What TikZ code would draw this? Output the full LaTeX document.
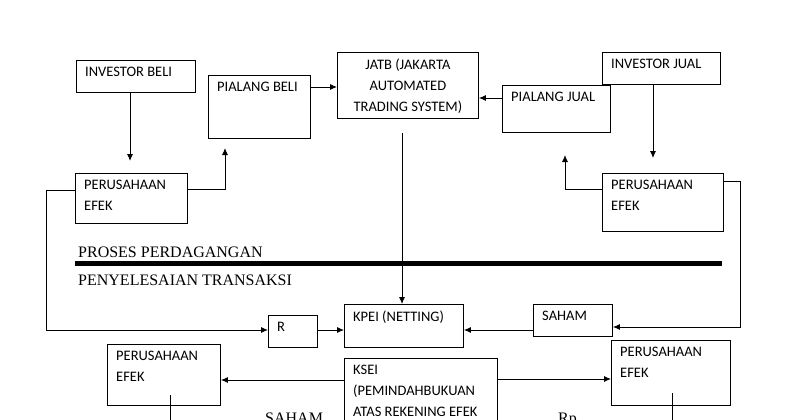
\documentclass[tikz,border=0pt]{standalone}
\usepackage{fontspec}
\setmainfont{Carlito}
\newfontfamily\timesfont{Liberation Serif}
\usetikzlibrary{arrows.meta,calc,positioning}
\tikzset{
  box/.style={draw, line width=0.9pt, anchor=north west, inner sep=0pt},
  boxtext/.style={anchor=north west, align=left, inner sep=0pt, font=\fontsize{14.5}{21}\selectfont},
  l1/.style={line width=0.9pt},
  arr/.style={l1, -{Latex[length=7pt,width=6pt]}},
  sep/.style={font=\timesfont\fontsize{16}{18}\selectfont, anchor=base west, inner sep=0pt}
}
% box macro: name, x, y, width, height, text
\newcommand{\bx}[6]{%
  \node[box, minimum width=#4, minimum height=#5] (#1) at (#2,#3) {};
  \node[boxtext] (#1t) at ($(#1.north west)+(9,7)$) {#6};}
\begin{document}
\begin{tikzpicture}[x=1pt,y=-1pt]
    \useasboundingbox (0,0) rectangle (800,420);
    \bx{invb}{76}{60}{119pt}{32pt}{INVESTOR BELI}
    \bx{pialb}{208}{75}{102pt}{63pt}{PIALANG BELI}
    \node[box, minimum width=141pt, minimum height=66pt] (jatb) at (337,52) {};
    \node[boxtext, anchor=north, align=center] (jatbt) at ($(jatb.north)+(0,7)$) {JATB (JAKARTA\\AUTOMATED\\TRADING SYSTEM)};
    \bx{pialj}{502}{85}{108pt}{47pt}{PIALANG JUAL}
    \bx{invj}{602}{52}{118pt}{32pt}{INVESTOR JUAL}
    \bx{pel}{75}{173}{112pt}{50pt}{PERUSAHAAN\\EFEK}
    \bx{per}{602}{173}{121pt}{58pt}{PERUSAHAAN\\EFEK}
    \bx{r}{268}{315}{49pt}{32pt}{R}
    \bx{kpei}{344}{304}{119pt}{43pt}{KPEI (NETTING)}
    \bx{saham}{533}{304}{79pt}{32pt}{SAHAM}
    \bx{pebl}{107}{344}{113pt}{61pt}{PERUSAHAAN\\EFEK}
    \bx{ksei}{344}{358}{153pt}{80pt}{KSEI\\(PEMINDAHBUKUAN\\ATAS REKENING EFEK}
    \bx{pebr}{611}{340}{119pt}{65pt}{PERUSAHAAN\\EFEK}

    % separator
    \draw[line width=5pt] (75,263) -- (722,263);
    \node[sep] (proses) at (78,257) {PROSES PERDAGANGAN};
    \node[sep] (penyel) at (78,285) {PENYELESAIAN TRANSAKSI};

    % trading
    \draw[arr] (invb.south -| 130,0) -- (130,161);
    \draw[arr] (pel.east |- 0,189) -| (225,148);
    \draw[arr] (pialb.east |- 0,87) -- (jatb.west |- 0,87);
    \draw[arr] (pialj.west |- 0,98) -- (jatb.east |- 0,98);
    \draw[arr] (invj.south -| 653,0) -- (653,158);
    \draw[arr] (per.west |- 0,189) -| (565,155);
    \draw[arr] (402,133) -- (kpei.north -| 402,0);

    % settlement
    \draw[arr] (pel.west |- 0,190) -- (46,190) |- (r.west |- 0,330);
    \draw[arr] (r.east |- 0,330) -- (kpei.west |- 0,330);
    \draw[arr] (saham.west |- 0,330) -- (kpei.east |- 0,330);
    \draw[arr] (per.east |- 0,181) -- (740,181) |- (saham.east |- 0,327);
    \draw[arr] (ksei.west |- 0,380) -- (pebl.east |- 0,380);
    \draw[arr] (ksei.east |- 0,379) -- (pebr.west |- 0,379);
    \coordinate (bl) at (170,425);
    \coordinate (br) at (672,425);
    \draw[l1] (170,395) -- (bl);
    \draw[l1] (672,393) -- (br);
    \node[sep] (lsaham) at (265,423) {SAHAM};
    \node[sep] (lrp) at (558,423) {Rp};
\end{tikzpicture}
\end{document}
